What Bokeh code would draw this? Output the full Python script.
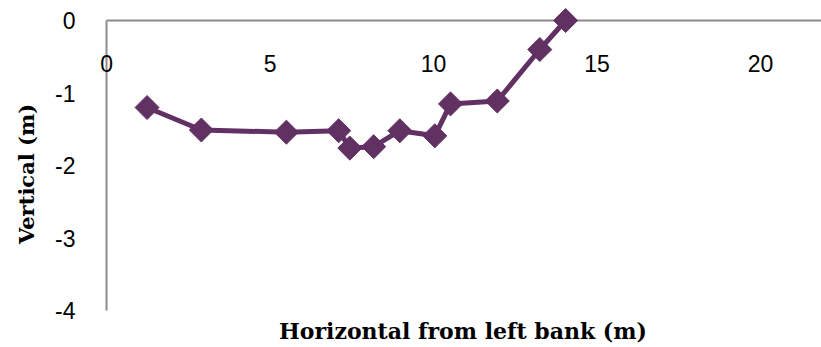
import math
from bokeh.plotting import figure
from bokeh.models import FixedTicker, ColumnDataSource
from bokeh.core.properties import value
from bokeh.embed import file_html
from bokeh.resources import INLINE

# Cross-section survey: horizontal distance from left bank vs. vertical depth
horizontal_m = [1.24, 2.9, 5.5, 7.1, 7.44, 8.17, 8.97, 10.04, 10.52, 11.95, 13.25, 14.04]
vertical_m = [-1.20, -1.51, -1.54, -1.52, -1.76, -1.74, -1.52, -1.59, -1.15, -1.11, -0.40, 0.0]

x_ticks = [0, 5, 10, 15, 20]
x_tick_labels = ["0", "5", "10", "15", "20"]
y_ticks = [0, -1, -2, -3, -4]
y_tick_labels = ["0", "-1", "-2", "-3", "-4"]

x_title = "Horizontal from left bank (m)"
y_title = "Vertical (m)"

PURPLE = "#623163"
AXIS_GREY = "#8c8c8c"

W, H = 821, 347
x_min, x_max = -0.49, 21.865
y_min, y_max = -4.51, 0.276

p = figure(width=W, height=H, output_backend="svg", toolbar_location=None,
           x_range=(x_min, x_max), y_range=(y_min, y_max),
           x_axis_location=None, y_axis_location="left")
p.min_border_left = 90
p.min_border_right = 0
p.min_border_top = 0
p.min_border_bottom = 0
p.outline_line_color = None
p.background_fill_color = "white"
p.border_fill_color = "white"
p.grid.visible = False

# left axis: labels and title only, the line is drawn as a segment
ya = p.yaxis[0]
ya.ticker = FixedTicker(ticks=y_ticks)
ya.major_label_overrides = {t: s for t, s in zip(y_ticks, y_tick_labels)}
ya.axis_line_color = None
ya.major_tick_line_color = None
ya.minor_tick_line_color = None
ya.major_label_text_font = "Liberation Sans"
ya.major_label_text_font_size = "23px"
ya.major_label_text_color = "black"
ya.major_label_standoff = 9
ya.axis_label = y_title
ya.axis_label_text_font = "DejaVu Serif"
ya.axis_label_text_font_style = "bold"
ya.axis_label_text_font_size = "21px"
ya.axis_label_text_color = "black"
ya.axis_label_standoff = 13

# axis lines: vertical axis at x=0, horizontal axis crossing at y=0
p.segment(x0=[0], y0=[y_ticks[-1]], x1=[0], y1=[0], line_color=AXIS_GREY, line_width=2)
p.segment(x0=[0], y0=[0], x1=[x_max], y1=[0], line_color=AXIS_GREY, line_width=2)

# horizontal tick labels sit below the y=0 axis line
p.text(x=x_ticks, y=[0] * len(x_ticks), text=x_tick_labels,
       text_font=value("Liberation Sans"), text_font_size="23px",
       text_align="center", text_baseline="middle", y_offset=43, text_color="black")

# horizontal axis title
p.text(x=[(x_ticks[0] + x_ticks[-1]) / 2 + 0.9], y=[y_min], text=[x_title],
       text_font=value("DejaVu Serif"), text_font_style="bold", text_font_size="22px",
       text_align="center", text_baseline="middle", y_offset=-17, text_color="black")

src = ColumnDataSource(dict(x=horizontal_m, y=vertical_m))
p.line("x", "y", source=src, line_color=PURPLE, line_width=5)
p.scatter("x", "y", source=src, marker="square", size=17, angle=math.pi / 4,
          fill_color=PURPLE, line_color=PURPLE)

open("out.html", "w").write(file_html(p, INLINE))
